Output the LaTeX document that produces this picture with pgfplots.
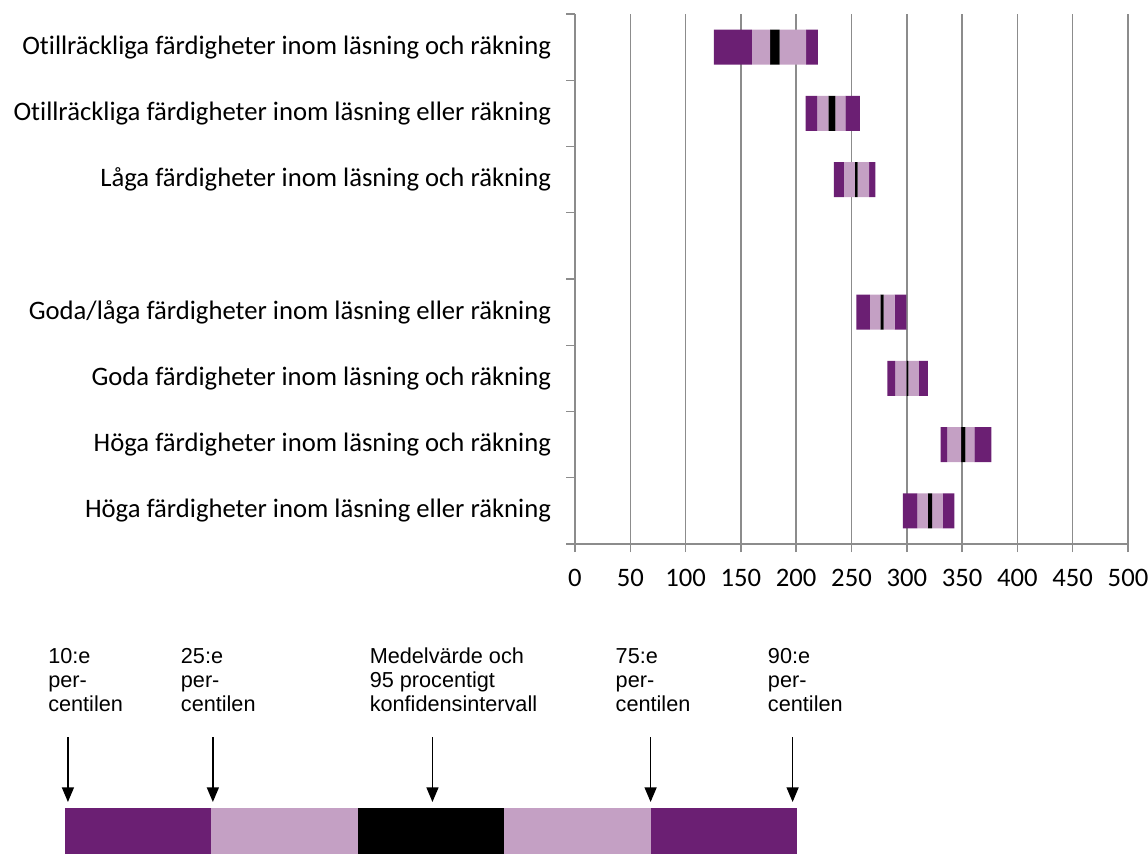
\documentclass[border=0pt]{standalone}
\usepackage{fontspec}
\setmainfont{Carlito}[Ligatures=NoCommon]
\newfontfamily\arial{Liberation Sans}
\usepackage{pgfplots}
\pgfplotsset{compat=1.18}
\usepackage{pgfplotstable}
\usetikzlibrary{arrows.meta}

\definecolor{darkpurple}{RGB}{107,31,115}
\definecolor{lightpurple}{RGB}{196,160,196}
\definecolor{gridgray}{RGB}{140,140,140}

% y = row (0 at top, row 3 left empty)
\pgfplotstableread{
y p10 p25 lo hi p75 p90
0 125.5 160 176.5 185 209 219.5
1 208.5 219 229 235.5 244.5 257.5
2 234 243 253 255.5 266 271.5
4 254.5 266.5 276 279 289 299.5
5 282.5 289.5 299.5 301.5 311 319
6 330.5 336.5 349 353 361 376.5
7 296.5 309.5 319 323 332.5 343
}\scores

\pgfplotstableread{
y a b c d e
17.25 1 1 1 1 1
}\key

\begin{document}
\begin{tikzpicture}
\useasboundingbox (0,0) rectangle (861pt,640.5pt);

% main chart
\begin{axis}[
    at={(431.25pt,232.5pt)}, anchor=south west,
    width=414.75pt, height=397.5pt,
    scale only axis,
    xbar stacked,
    bar width=26.25pt,
    xmin=0, xmax=500,
    ymin=-0.5, ymax=7.5,
    y dir=reverse,
    xtick={0,50,...,500},
    ytick={0,1,2,4,5,6,7},
    yticklabels={
        Otillräckliga färdigheter inom läsning och räkning,
        Otillräckliga färdigheter inom läsning eller räkning,
        Låga färdigheter inom läsning och räkning,
        Goda/låga färdigheter inom läsning eller räkning,
        Goda färdigheter inom läsning och räkning,
        Höga färdigheter inom läsning och räkning,
        Höga färdigheter inom läsning eller räkning},
    minor ytick={-0.5,0.5,...,7.5},
    major tick length=0pt,
    minor tick length=6.75pt,
    tick align=outside,
    xtick pos=bottom, ytick pos=left,
    axis x line*=bottom, axis y line*=left,
    axis line style={gridgray, line width=1.1pt},
    every tick/.style={gridgray, line width=1.1pt},
    extra x ticks={0,50,...,500},
    extra x tick labels={},
    extra x tick style={major tick length=6pt, grid=none},
    xmajorgrids,
    major grid style={gridgray, line width=1.1pt},
    tick label style={font=\fontsize{20}{24}\selectfont},
    /pgf/number format/assume math mode=true,
    xticklabel style={yshift=-15pt},
    yticklabel style={xshift=-14.5pt},
    clip=false,
]
\addplot[draw=none, fill=none] table[x=p10, y=y] {\scores};
\addplot[draw=none, fill=darkpurple] table[x expr=\thisrow{p25}-\thisrow{p10}, y=y] {\scores};
\addplot[draw=none, fill=lightpurple] table[x expr=\thisrow{lo}-\thisrow{p25}, y=y] {\scores};
\addplot[draw=none, fill=black] table[x expr=\thisrow{hi}-\thisrow{lo}, y=y] {\scores};
\addplot[draw=none, fill=lightpurple] table[x expr=\thisrow{p75}-\thisrow{hi}, y=y] {\scores};
\addplot[draw=none, fill=darkpurple] table[x expr=\thisrow{p90}-\thisrow{p75}, y=y] {\scores};
\end{axis}

% key below the chart
\begin{axis}[
    at={(48.75pt,0pt)}, anchor=south west,
    width=549pt, height=150pt,
    scale only axis,
    hide axis,
    xbar stacked,
    bar width=34.5pt,
    xmin=0, xmax=5,
    ymin=0, ymax=150,
    clip=false,
]
\addplot[draw=none, fill=darkpurple] table[x=a, y=y] {\key};
\addplot[draw=none, fill=lightpurple] table[x=b, y=y] {\key};
\addplot[draw=none, fill=black] table[x=c, y=y] {\key};
\addplot[draw=none, fill=lightpurple] table[x=d, y=y] {\key};
\addplot[draw=none, fill=darkpurple] table[x=e, y=y] {\key};

\tikzset{keyarrow/.style={line width=1.1pt, -{Triangle[width=9pt,length=11pt]}}}
\draw[keyarrow] (axis cs:0.02,87.75) -- (axis cs:0.02,39);
\draw[keyarrow] (axis cs:1.01,87.75) -- (axis cs:1.01,39);
\draw[keyarrow] (axis cs:2.51,87.75) -- (axis cs:2.51,39);
\draw[keyarrow] (axis cs:4.0,87.75) -- (axis cs:4.0,39);
\draw[keyarrow] (axis cs:4.97,87.75) -- (axis cs:4.97,39);

\tikzset{keylabel/.style={anchor=north west, inner sep=0pt, align=left,
    font=\arial\fontsize{16.25}{18}\selectfont}}
\node[keylabel] at (axis cs:-0.116,154.5) {10:e\\per-\\centilen};
\node[keylabel] at (axis cs:0.79,154.5) {25:e\\per-\\centilen};
\node[keylabel] at (axis cs:2.08,154.5) {Medelvärde och\\95 procentigt\\konfidensintervall};
\node[keylabel] at (axis cs:3.76,154.5) {75:e\\per-\\centilen};
\node[keylabel] at (axis cs:4.80,154.5) {90:e\\per-\\centilen};
\end{axis}
\end{tikzpicture}
\end{document}
